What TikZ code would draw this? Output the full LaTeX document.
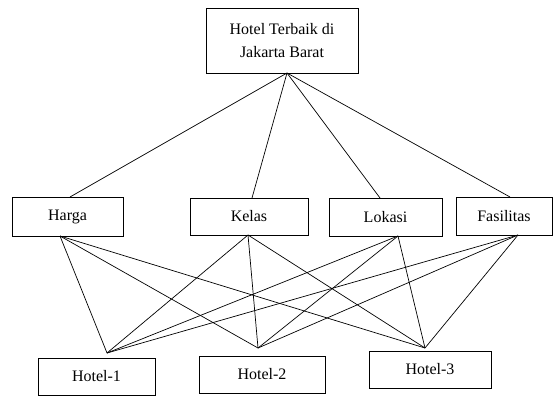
\documentclass[tikz,border=0pt]{standalone}
\usepackage{fontspec}
\setmainfont{Liberation Serif}
\begin{document}
\begin{tikzpicture}[x=1pt,y=-1pt,
  box/.style={draw, line width=0.9pt, inner sep=0pt, font=\fontsize{16}{22.5}\selectfont, align=center},
  link/.style={line width=0.7pt}]
\useasboundingbox (0,0) rectangle (554,396);
\node[box, minimum width=152pt, minimum height=65pt] (top) at (282,40.5) {Hotel Terbaik di\\Jakarta Barat};
\node[box, minimum width=111pt, minimum height=39pt] (harga) at (67.5,216.5) {Harga};
\node[box, minimum width=118pt, minimum height=37pt] (kelas) at (249,216.5) {Kelas};
\node[box, minimum width=113pt, minimum height=38pt] (lokasi) at (385.5,217) {Lokasi};
\node[box, minimum width=96pt, minimum height=38pt] (fas) at (504,216.5) {Fasilitas};
\node[box, minimum width=117pt, minimum height=37pt] (h1) at (96.5,376.5) {Hotel-1};
\node[box, minimum width=126pt, minimum height=37pt] (h2) at (262,374.5) {Hotel-2};
\node[box, minimum width=122pt, minimum height=37pt] (h3) at (430,369.5) {Hotel-3};
% connection points
\coordinate (t0) at (287,73);
\coordinate (hT) at (70,197);
\coordinate (kT) at (252,198);
\coordinate (lT) at (380,198);
\coordinate (fT) at (510,197);
\coordinate (hB) at (60,236);
\coordinate (kB) at (248,235);
\coordinate (lB) at (398,236);
\coordinate (fB) at (518,235);
\coordinate (p1) at (107,353);
\coordinate (p2) at (258,348);
\coordinate (p3) at (425,348);
\foreach \c in {hT,kT,lT,fT} \draw[link] (t0) -- (\c);
\foreach \a in {hB,kB,lB,fB} \foreach \b in {p1,p2,p3} \draw[link] (\a) -- (\b);
\end{tikzpicture}
\end{document}
